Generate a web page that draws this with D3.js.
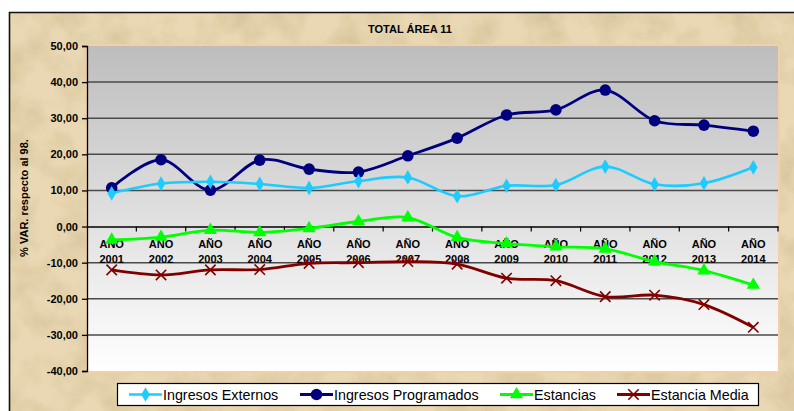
<!DOCTYPE html>
<html>
<head>
<meta charset="utf-8">
<script src="https://cdn.jsdelivr.net/npm/d3@7"></script>
<style>
  html, body { margin: 0; padding: 0; background: #ffffff; }
  svg { display: block; font-family: Arial, "Liberation Sans", sans-serif; }
</style>
</head>
<body>
<svg id="chart" width="794" height="411"></svg>
<script>
// ---------- DATA ----------
const title = "TOTAL ÁREA 11";
const yAxisTitle = "% VAR. respecto al 98.";
const categories = ["2001","2002","2003","2004","2005","2006","2007","2008","2009","2010","2011","2012","2013","2014"];
const categoryPrefix = "AÑO";
const yTicks = [50, 40, 30, 20, 10, 0, -10, -20, -30, -40];

const ingresosExternos   = [9.2, 11.9, 12.4, 11.8, 10.7, 12.6, 13.6, 8.4, 11.3, 11.5, 16.6, 11.7, 12.0, 16.4];
const ingresosProgramados = [10.7, 18.5, 10.1, 18.4, 15.9, 15.1, 19.6, 24.5, 30.9, 32.3, 37.8, 29.3, 28.1, 26.4];
const estancias          = [-3.7, -2.9, -1.0, -1.6, -0.5, 1.4, 2.5, -3.0, -4.7, -5.6, -6.2, -9.7, -12.2, -16.2];
const estanciaMedia      = [-12.0, -13.4, -12.0, -11.9, -10.2, -10.0, -9.7, -10.4, -14.3, -15.0, -19.4, -19.0, -21.6, -27.9];

const seriesNames = ["Ingresos Externos", "Ingresos Programados", "Estancias", "Estancia Media"];

// ---------- STYLE ----------
const styles = [
  { color: "#1ecbff", width: 2.6, marker: "diamond" },
  { color: "#00007f", width: 2.8, marker: "circle" },
  { color: "#00ff00", width: 2.8, marker: "triangle" },
  { color: "#800000", width: 2.8, marker: "cross" }
];
const seriesData = [ingresosExternos, ingresosProgramados, estancias, estanciaMedia];

const svg = d3.select("#chart");
const W = 794, H = 411;
const plot = { left: 87, right: 778, top: 46, bottom: 371 };

const defs = svg.append("defs");
// parchment texture
const f = defs.append("filter").attr("id", "parch").attr("x", 0).attr("y", 0).attr("width", "100%").attr("height", "100%");
f.append("feTurbulence").attr("type", "fractalNoise").attr("baseFrequency", "0.03").attr("numOctaves", 4).attr("seed", 7).attr("result", "n");
f.append("feColorMatrix").attr("in", "n").attr("type", "matrix")
  .attr("values", "0 0 0 0 0.55  0 0 0 0 0.42  0 0 0 0 0.22  1.5 0 0 0 -0.58")
  .attr("result", "c");
f.append("feComposite").attr("in", "c").attr("in2", "SourceGraphic").attr("operator", "in");

const grad = defs.append("linearGradient").attr("id", "plotGrad").attr("x1", 0).attr("y1", 0).attr("x2", 0).attr("y2", 1);
grad.append("stop").attr("offset", "0%").attr("stop-color", "#bdbdbd");
grad.append("stop").attr("offset", "100%").attr("stop-color", "#ffffff");

// chart background
svg.append("rect").attr("x", 9).attr("y", 12).attr("width", W).attr("height", H).attr("fill", "#e9d8b3");
svg.append("rect").attr("x", 9).attr("y", 12).attr("width", W).attr("height", H).attr("fill", "#e9d8b3")
  .attr("filter", "url(#parch)").attr("opacity", 0.6);
svg.append("path").attr("d", `M9.5,${H} V12.5 H${W}`).attr("fill", "none").attr("stroke", "#111").attr("stroke-width", 1.6);

// scales
const x = d3.scaleBand().domain(categories).range([plot.left, plot.right]).paddingInner(0).paddingOuter(0);
const y = d3.scaleLinear().domain([-40, 50]).range([plot.bottom, plot.top]);

// plot area
svg.append("rect").attr("x", plot.left).attr("y", plot.top - 1)
  .attr("width", plot.right - plot.left + 1).attr("height", plot.bottom - plot.top + 2)
  .attr("fill", "url(#plotGrad)").attr("stroke", "#f3cfa6").attr("stroke-width", 2);

// gridlines
svg.append("g").selectAll("line").data(yTicks.filter(d => d !== 0 && d !== 50 && d !== -40)).join("line")
  .attr("x1", plot.left).attr("x2", plot.right)
  .attr("y1", d => y(d)).attr("y2", d => y(d))
  .attr("stroke", "#4a4a4a").attr("stroke-width", 1.5);

// y axis
const yAxis = d3.axisLeft(y).tickValues(yTicks).tickSize(5).tickPadding(4)
  .tickFormat(d => d3.format(".2f")(d).replace(".", ",").replace("−", "-"));
const yg = svg.append("g").attr("transform", `translate(${plot.left},0)`).call(yAxis);
yg.select(".domain").attr("stroke", "#000").attr("stroke-width", 1.3);
yg.selectAll(".tick line").attr("stroke", "#000").attr("stroke-width", 1.3);
yg.selectAll(".tick text").attr("font-size", 11).attr("font-weight", "bold").attr("fill", "#000")
  .attr("font-family", "Arial, 'Liberation Sans', sans-serif");

// x axis (at zero line)
const xAxis = d3.axisBottom(x).tickSize(0).tickFormat("");
const xg = svg.append("g").attr("transform", `translate(0,${y(0)})`).call(xAxis);
xg.select(".domain").attr("stroke", "#000").attr("stroke-width", 1.5);
// tick marks between categories
svg.append("g").selectAll("line").data(categories).join("line")
  .attr("x1", d => x(d) + x.bandwidth())
  .attr("x2", d => x(d) + x.bandwidth())
  .attr("y1", y(0)).attr("y2", y(0) + 5)
  .attr("stroke", "#000").attr("stroke-width", 1.2);

// category labels
const lab = svg.append("g").selectAll("text").data(categories).join("text")
  .attr("x", d => x(d) + x.bandwidth() / 2)
  .attr("text-anchor", "middle").attr("font-size", 11).attr("font-weight", "bold").attr("fill", "#000");
lab.append("tspan").attr("x", d => x(d) + x.bandwidth() / 2).attr("y", 247.5).text(categoryPrefix);
lab.append("tspan").attr("x", d => x(d) + x.bandwidth() / 2).attr("y", 262.5).text(d => d);

// title
svg.append("text").attr("x", 410).attr("y", 33).attr("text-anchor", "middle")
  .attr("font-size", 11).attr("font-weight", "bold").attr("fill", "#000").text(title);

// y axis title
svg.append("text").attr("transform", "translate(28,198) rotate(-90)").attr("text-anchor", "middle")
  .attr("font-size", 11).attr("font-weight", "bold").attr("fill", "#000").text(yAxisTitle);

// markers
function drawMarker(g, type, color, cx, cy) {
  if (type === "diamond") {
    g.append("path").attr("d", d3.symbol(d3.symbolDiamond, 62)()).attr("transform", `translate(${cx},${cy})`).attr("fill", color);
  } else if (type === "circle") {
    g.append("circle").attr("cx", cx).attr("cy", cy).attr("r", 5.8).attr("fill", color);
  } else if (type === "triangle") {
    g.append("path").attr("d", d3.symbol(d3.symbolTriangle, 75)()).attr("transform", `translate(${cx},${cy})`).attr("fill", color);
  } else if (type === "cross") {
    const s = 5.2;
    g.append("path").attr("d", `M${cx - s},${cy - s}L${cx + s},${cy + s}M${cx - s},${cy + s}L${cx + s},${cy - s}`)
      .attr("stroke", color).attr("stroke-width", 1.6).attr("fill", "none");
  }
}

const line = d3.line()
  .x((d, i) => x(categories[i]) + x.bandwidth() / 2)
  .y(d => y(d))
  .curve(d3.curveCardinal.tension(0));

const order = [3, 2, 1, 0];
order.forEach(si => {
  const g = svg.append("g");
  g.append("path").datum(seriesData[si]).attr("d", line)
    .attr("fill", "none").attr("stroke", styles[si].color).attr("stroke-width", styles[si].width)
    .attr("stroke-linejoin", "round");
  seriesData[si].forEach((v, i) => drawMarker(g, styles[si].marker, styles[si].color, x(categories[i]) + x.bandwidth() / 2, y(v)));
});

// legend
const legend = svg.append("g");
legend.append("rect").attr("x", 117.5).attr("y", 383.5).attr("width", 641).attr("height", 22)
  .attr("fill", "#fff").attr("stroke", "#000").attr("stroke-width", 1.2);
const legendX = [129, 300, 500, 617];
seriesNames.forEach((name, si) => {
  const lx = legendX[si];
  legend.append("line").attr("x1", lx).attr("x2", lx + 33).attr("y1", 394.5).attr("y2", 394.5)
    .attr("stroke", styles[si].color).attr("stroke-width", styles[si].width);
  drawMarker(legend, styles[si].marker, styles[si].color, lx + 16.5, 394.5);
  legend.append("text").attr("x", lx + 34).attr("y", 399.5).attr("font-size", 14.3).attr("fill", "#000").text(name);
});
</script>
</body>
</html>
